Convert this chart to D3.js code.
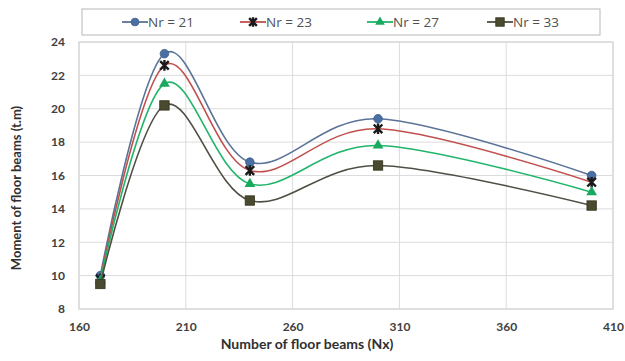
<!DOCTYPE html>
<html>
<head>
<meta charset="utf-8">
<script src="https://cdn.jsdelivr.net/npm/d3@7"></script>
<style>
  html, body { margin: 0; padding: 0; background: #fff; }
  svg { display: block; font-family: Lato, "Open Sans", sans-serif; }
</style>
</head>
<body>
<svg id="chart" width="625" height="361"></svg>
<script>
// Number of floor beams (Nx) sampled for each Nr case
const beams = [170, 200, 240, 300, 400];

// Moment of floor beams (t.m) per Nr case
const nr21 = [10.0, 23.3, 16.8, 19.4, 16.0];
const nr23 = [9.8, 22.6, 16.3, 18.8, 15.6];
const nr27 = [9.7, 21.5, 15.5, 17.8, 15.0];
const nr33 = [9.5, 20.2, 14.5, 16.6, 14.2];

const seriesNames = ["Nr = 21", "Nr = 23", "Nr = 27", "Nr = 33"];
const xTicks = [160, 210, 260, 310, 360, 410];
const yTicks = [8, 10, 12, 14, 16, 18, 20, 22, 24];

const series = [
  { name: seriesNames[0], values: nr21, line: "#5a7398", marker: "circle", fill: "#4a6fa5" },
  { name: seriesNames[1], values: nr23, line: "#c0504d", marker: "star",   fill: "#1a1a1a" },
  { name: seriesNames[2], values: nr27, line: "#1fb56a", marker: "tri",    fill: "#18a860" },
  { name: seriesNames[3], values: nr33, line: "#4f4f45", marker: "square", fill: "#4a4a30" }
];

const svg = d3.select("#chart");
const plot = { left: 79, right: 613, top: 42, bottom: 309 };

const x = d3.scaleLinear().domain([160, 410]).range([plot.left, plot.right]);
const y = d3.scaleLinear().domain([8, 24]).range([plot.bottom, plot.top]);

// gridlines
const grid = svg.append("g");
grid.selectAll("line.h").data(yTicks).join("line")
  .attr("x1", plot.left).attr("x2", plot.right)
  .attr("y1", d => y(d)).attr("y2", d => y(d))
  .attr("stroke", "#dcdcdc").attr("stroke-width", 1);
grid.selectAll("line.v").data(xTicks).join("line")
  .attr("y1", plot.top).attr("y2", plot.bottom)
  .attr("x1", d => x(d)).attr("x2", d => x(d))
  .attr("stroke", "#dcdcdc").attr("stroke-width", 1);

// axes (labels only, no tick marks)
const xAxis = svg.append("g")
  .attr("transform", `translate(0,${plot.bottom})`)
  .call(d3.axisBottom(x).tickValues(xTicks).tickSize(0).tickPadding(13));
const yAxis = svg.append("g")
  .attr("transform", `translate(${plot.left},0)`)
  .call(d3.axisLeft(y).tickValues(yTicks).tickSize(0).tickPadding(14));
[xAxis, yAxis].forEach(a => {
  a.select(".domain").remove();
  a.selectAll("text")
    .attr("font-family", "Lato, 'Open Sans', sans-serif")
    .attr("font-size", 12).attr("font-weight", "bold").attr("fill", "#404040");
});

// axis titles
svg.append("text")
  .attr("x", 307).attr("y", 349)
  .attr("text-anchor", "middle")
  .attr("font-size", 14).attr("font-weight", "bold").attr("fill", "#303030")
  .text("Number of floor beams (Nx)");
svg.append("text")
  .attr("transform", "translate(21,188) rotate(-90)")
  .attr("text-anchor", "middle")
  .attr("font-size", 13).attr("font-weight", "bold").attr("fill", "#303030")
  .text("Moment of floor beams (t.m)");

// marker drawing helper
function drawMarker(g, type, fill, cx, cy, s) {
  if (type === "circle") {
    g.append("circle").attr("cx", cx).attr("cy", cy).attr("r", 4.3 * s).attr("fill", fill)
      .attr("stroke", "#3d5a85").attr("stroke-width", 0.8);
  } else if (type === "square") {
    g.append("rect").attr("x", cx - 4.7 * s).attr("y", cy - 4.7 * s)
      .attr("width", 9.4 * s).attr("height", 9.4 * s).attr("fill", fill)
      .attr("stroke", "#33331f").attr("stroke-width", 0.8);
  } else if (type === "tri") {
    g.append("path")
      .attr("d", d3.symbol().type(d3.symbolTriangle).size(50 * s * s)())
      .attr("transform", `translate(${cx},${cy})`).attr("fill", fill);
  } else {
    const r = 4.3 * s;
    g.append("path")
      .attr("d", `M${cx - r},${cy - r}L${cx + r},${cy + r}M${cx - r},${cy + r}L${cx + r},${cy - r}M${cx},${cy - r - 1}L${cx},${cy + r + 1}`)
      .attr("stroke", fill).attr("stroke-width", 2.4);
  }
}

// smoothed series lines with markers
const line = d3.line()
  .x((d, i) => x(beams[i]))
  .y(d => y(d))
  .curve(d3.curveCatmullRom.alpha(0));

series.forEach(s => {
  const g = svg.append("g");
  g.append("path").datum(s.values)
    .attr("d", line).attr("fill", "none")
    .attr("stroke", s.line).attr("stroke-width", 1.6);
  s.values.forEach((v, i) => drawMarker(g, s.marker, s.fill, x(beams[i]), y(v), 1));
});

// plot-area frame
svg.append("rect")
  .attr("x", plot.left).attr("y", plot.top)
  .attr("width", plot.right - plot.left).attr("height", plot.bottom - plot.top)
  .attr("fill", "none").attr("stroke", "#d0d0d0");

// legend
const legend = svg.append("g");
legend.append("rect")
  .attr("x", 82).attr("y", 9).attr("width", 518).attr("height", 26)
  .attr("fill", "#fff").attr("stroke", "#b8b8b8").attr("stroke-width", 1);
const legendX = [135, 253, 380, 500];
series.forEach((s, i) => {
  const cx = legendX[i];
  const cy = 22;
  legend.append("line").attr("x1", cx - 13).attr("x2", cx + 13)
    .attr("y1", cy).attr("y2", cy).attr("stroke", s.line).attr("stroke-width", 1.8);
  drawMarker(legend, s.marker, s.fill, cx, cy, 0.9);
  legend.append("text")
    .attr("x", cx + 13).attr("y", cy + 5)
    .attr("font-family", "'Open Sans', Lato, sans-serif")
    .attr("font-size", 13.5).attr("fill", "#505050")
    .text(s.name);
});
</script>
</body>
</html>
